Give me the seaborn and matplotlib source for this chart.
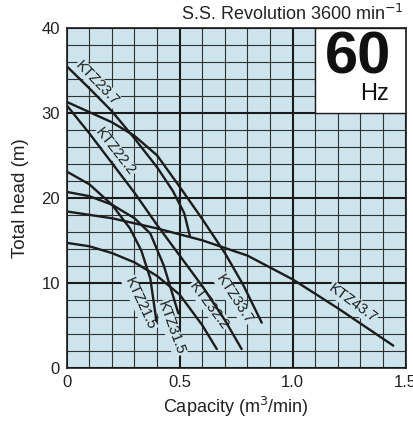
import matplotlib
matplotlib.use("Agg")
import matplotlib.pyplot as plt
import pandas as pd
import seaborn as sns
from matplotlib.patches import Rectangle
from matplotlib.ticker import MultipleLocator

# ----------------------------
# Curve data (capacity m3/min, total head m)
# ----------------------------
ktz23_7_q = [0, 0.1, 0.2, 0.3, 0.4, 0.47, 0.52, 0.546]
ktz23_7_h = [35.5, 32.9, 30.2, 27.0, 23.6, 20.8, 18.2, 15.4]

ktz33_7_q = [0, 0.1, 0.2, 0.3, 0.4, 0.5, 0.6, 0.7, 0.78, 0.863]
ktz33_7_h = [31.3, 30.1, 28.9, 27.3, 25.0, 21.3, 17.5, 13.5, 9.8, 5.3]

ktz22_2_q = [0, 0.1, 0.2, 0.3, 0.4, 0.5, 0.6, 0.7, 0.774]
ktz22_2_h = [30.9, 27.6, 24.1, 20.6, 16.8, 13.2, 9.6, 5.6, 2.2]

ktz21_5_q = [0, 0.1, 0.2, 0.28, 0.33, 0.37, 0.397]
ktz21_5_h = [23.1, 21.6, 19.2, 16.4, 13.8, 10.5, 5.5]

ktz31_5_q = [0, 0.1, 0.2, 0.3, 0.37, 0.43, 0.494]
ktz31_5_h = [20.7, 20.2, 19.2, 17.6, 15.8, 12.0, 6.4]

ktz43_7_q = [0, 0.2, 0.4, 0.6, 0.8, 1.0, 1.2, 1.445]
ktz43_7_h = [18.4, 17.6, 16.4, 15.0, 13.2, 10.4, 7.0, 2.6]

ktz32_2_q = [0, 0.1, 0.2, 0.3, 0.4, 0.5, 0.6, 0.664]
ktz32_2_h = [14.7, 14.3, 13.5, 12.4, 10.8, 8.6, 5.0, 2.2]

models = ["KTZ23.7", "KTZ33.7", "KTZ22.2", "KTZ21.5", "KTZ31.5", "KTZ43.7", "KTZ32.2"]
curves = [
    (ktz23_7_q, ktz23_7_h),
    (ktz33_7_q, ktz33_7_h),
    (ktz22_2_q, ktz22_2_h),
    (ktz21_5_q, ktz21_5_h),
    (ktz31_5_q, ktz31_5_h),
    (ktz43_7_q, ktz43_7_h),
    (ktz32_2_q, ktz32_2_h),
]

# label spot (capacity, head) and angle for each curve name
label_q = [0.136, 0.74, 0.215, 0.324, 0.461, 1.265, 0.63]
label_h = [33.5, 8.1, 25.4, 7.5, 4.65, 7.6, 7.3]
label_rot = [-46, -57, -52, -65, -70, -36, -53]

x_ticks = [0, 0.5, 1.0, 1.5]
x_tick_labels = ["0", "0.5", "1.0", "1.5"]
y_ticks = [0, 10, 20, 30, 40]

rows = []
for name, (q, h) in zip(models, curves):
    for qq, hh in zip(q, h):
        rows.append({"model": name, "capacity": qq, "head": hh})
df = pd.DataFrame(rows)

# ----------------------------
# Plot
# ----------------------------
sns.set_style("white")
plt.rcParams["font.family"] = ["Liberation Sans", "DejaVu Sans"]

bg = "#cde4ed"
ink = "#1c1c1c"

fig = plt.figure(figsize=(4.13, 4.21), dpi=100)
ax = fig.add_axes([0.1615, 0.1266, 0.8208, 0.8069])
ax.set_facecolor(bg)

sns.lineplot(data=df, x="capacity", y="head", hue="model", units="model",
             estimator=None, sort=False, palette=[ink] * len(models),
             linewidth=1.7, legend=False, ax=ax, zorder=4)

ax.set_xlim(0, 1.5)
ax.set_ylim(0, 40)
ax.set_xticks(x_ticks)
ax.set_xticklabels(x_tick_labels)
ax.set_yticks(y_ticks)
ax.xaxis.set_minor_locator(MultipleLocator(0.1))
ax.yaxis.set_minor_locator(MultipleLocator(2))
ax.set_axisbelow(True)
ax.grid(which="minor", color="#303030", linewidth=0.8)
ax.grid(which="major", color="#1a1a1a", linewidth=1.5)
ax.tick_params(which="both", length=0, labelsize=12, colors="#222222", pad=5)

for sp in ax.spines.values():
    sp.set_color("#1a1a1a")
    sp.set_linewidth(1.2)

ax.set_xlabel("Capacity (m$^{3}$/min)", fontsize=13, color="#222222", labelpad=4)
ax.set_ylabel("Total head (m)", fontsize=13.5, color="#222222", labelpad=9)

for name, q, h, r in zip(models, label_q, label_h, label_rot):
    ax.text(q, h, name, rotation=r, rotation_mode="anchor", ha="center", va="center",
            fontsize=10.5, color=ink, zorder=3,
            bbox=dict(facecolor=bg, edgecolor="none", pad=0.5))

# 60 Hz box in the upper right
ax.add_patch(Rectangle((1.1, 30), 0.4, 10, facecolor="white", edgecolor="#1a1a1a",
                       linewidth=1.0, zorder=2))
ax.text(1.289, 36.5, "60", fontsize=43, fontweight="bold", ha="center", va="center",
        color="#111111", zorder=5)
ax.text(1.425, 32.2, "Hz", fontsize=17, ha="right", va="center", color="#111111", zorder=5)

fig.text(0.978, 0.966, "S.S. Revolution 3600 min$^{-1}$", ha="right", va="center",
         fontsize=13, color="#222222")

fig.savefig("out.png", dpi=100)
